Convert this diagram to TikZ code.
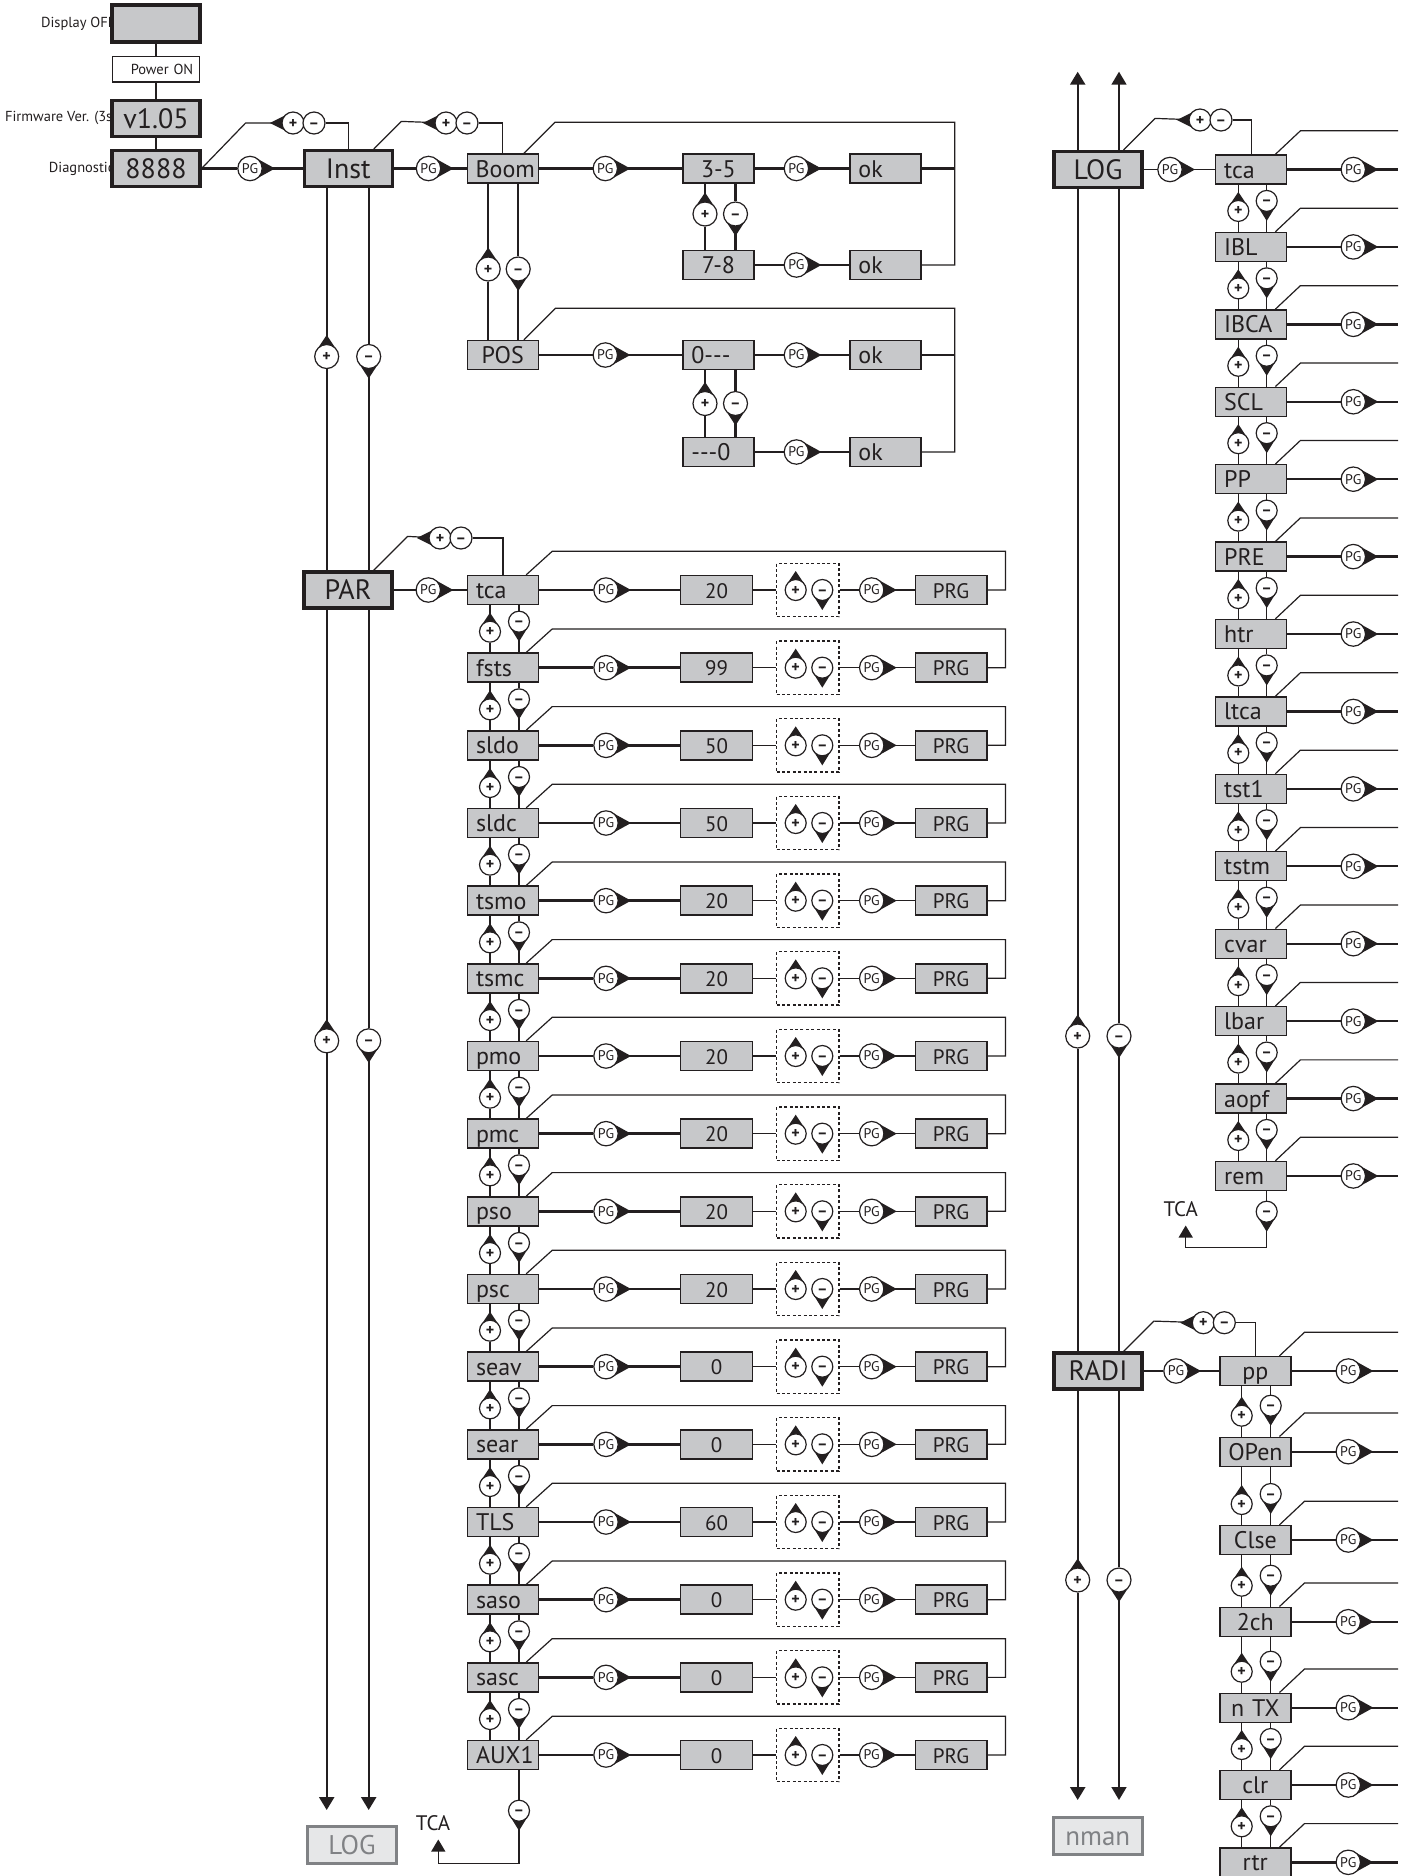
\documentclass[tikz,border=0pt]{standalone}
\usepackage{fontspec}
\setmainfont{PT Sans}
\usepackage{tikz}
\usetikzlibrary{arrows.meta}
\usetikzlibrary{positioning}

\definecolor{boxgray}{RGB}{199,200,202}
\definecolor{lblgray}{RGB}{230,231,232}
\definecolor{midgray}{RGB}{128,130,133}
\definecolor{ink}{RGB}{35,31,32}

% PG key, tip to the right
\newcommand{\pgkey}[3]{%
  \fill[ink] (#2,#3) ++(6,-10.5) -- ++(19,10.5) -- ++(-19,10.5) -- cycle;
  \node[pgcirc] (#1) at (#2,#3) {PG};}
% + key (tip up) and - key (tip down)
\newcommand{\pluskey}[3]{%
  \fill[ink] (#2,#3) ++(-8.5,-6.2) -- ++(8.5,-12.8) -- ++(8.5,12.8) -- cycle;
  \node[keycirc] (#1) at (#2,#3) {+};}
\newcommand{\minuskey}[3]{%
  \fill[ink] (#2,#3) ++(-8.5,6.2) -- ++(8.5,13.8) -- ++(8.5,-13.8) -- cycle;
  \node[keycirc] (#1) at (#2,#3) {--};}
\newcommand{\plusbig}[3]{%
  \fill[ink] (#2,#3) ++(-9.7,-7) -- ++(9.7,-14.5) -- ++(9.7,14.5) -- cycle;
  \node[keycirc,minimum size=12pt] (#1) at (#2,#3) {+};}
\newcommand{\minusbig}[3]{%
  \fill[ink] (#2,#3) ++(-9.7,7) -- ++(9.7,15) -- ++(9.7,-15) -- cycle;
  \node[keycirc,minimum size=12pt] (#1) at (#2,#3) {--};}
% back key: tip left, + and - side by side
\newcommand{\backkey}[3]{%
  \fill[ink] (#2,#3) ++(-6.2,-8.5) -- ++(-17,8.5) -- ++(17,8.5) -- cycle;
  \node[keycirc,minimum size=11pt] (#1p) at (#2,#3) {+};
  \node[keycirc,minimum size=11pt,xshift=10.5pt] (#1m) at (#2,#3) {--};}

% PAR item row: name, label, value, y
\newcommand{\parrow}[4]{%
  \node[itembox] (#1) at (503,#4) {#2};
  \pgkey{#1k}{606}{#4}
  \node[valbox] (#1v) at (716.5,#4) {#3};
  \node[dashbox] (#1s) at (807.8,#4) {};
  \pluskey{#1a}{795.7}{#4}
  \minuskey{#1b}{822.3}{#4}
  \pgkey{#1q}{871.7}{#4}
  \node[valbox] (#1r) at (951,#4) {PRG};
  \draw[thickline] (#1) -- (#1k) -- (#1v);
  \draw (#1v) -- (#1s) -- (#1q) -- (#1r);
  \draw ([xshift=-6.5pt]#1.north east) -- ++(26,-23.5) -| ([xshift=9pt]#1r.east) -- (#1r);}

% LOG / RADI item row running to the right edge: [style], name, label, x box, x PG, y
\newcommand{\subrow}[6][itembox]{%
  \node[#1] (#2) at (#4,#6) {#3};
  \pgkey{#2k}{#5}{#6}
  \draw[thickline] (#2) -- (#2k) -- (#2k -| redge);
  \path ([xshift=-6pt]#2.north east) ++(25,-23.5) coordinate (#2t);
  \draw ([xshift=-6pt]#2.north east) -- (#2t) -- (#2t -| redge);}

% +/- keys between two stacked items: upper, lower, x of +, x of -, y of lower
\newcommand{\stepkeys}[5]{%
  \pluskey{#1u}{#3}{#5-36}
  \minuskey{#1d}{#4}{#5-46}
  \draw (#1u |- #1.south) -- (#1u) -- (#1u |- #2.north);
  \draw (#1d |- #1.south) -- (#1d) -- (#1d |- #2.north);}

\begin{document}
\begin{tikzpicture}[x=0.5pt,y=-0.5pt,line width=0.6pt,color=ink,
  thickline/.style={line width=1.2pt},
  colthin/.style={line width=0.8pt},
  arr/.style={-{Triangle[length=6.5pt,width=7.5pt]}},
  smallarr/.style={-{Triangle[length=6pt,width=7pt]}},
  smalltxt/.style={inner sep=0pt,font=\fontsize{7.25}{8}\selectfont},
  bigbox/.style={draw,line width=1.6pt,fill=boxgray,minimum width=44pt,minimum height=18pt,inner sep=0pt,text height=9.8pt,text depth=0pt,font=\fontsize{14}{16}\selectfont},
  itembox/.style={draw,line width=0.7pt,fill=boxgray,text width=27pt,align=left,inner xsep=4.25pt,inner ysep=0pt,minimum height=14.5pt,text height=10pt,text depth=1.5pt,font=\fontsize{12}{14}\selectfont},
  itemc/.style={itembox,align=center},
  valbox/.style={draw,line width=0.7pt,fill=boxgray,minimum width=35.8pt,minimum height=14.5pt,inner sep=0pt,text height=8pt,text depth=0pt,font=\fontsize{10.5}{12}\selectfont},
  dashbox/.style={draw,dash pattern=on 1.5pt off 1.2pt,line width=0.6pt,minimum width=31.2pt,minimum height=26.6pt,inner sep=0pt},
  lblbox/.style={draw=midgray,line width=1.6pt,fill=lblgray,text=midgray,minimum width=44.6pt,minimum height=18.5pt,inner sep=0pt,text height=9.5pt,text depth=0pt,font=\fontsize{13.5}{15}\selectfont},
  pgcirc/.style={circle,draw,fill=white,inner sep=0pt,minimum size=12.2pt,font=\fontsize{7}{7}\selectfont},
  keycirc/.style={circle,draw,fill=white,inner sep=0pt,minimum size=10.5pt,text height=5pt,text depth=0pt,font=\fontsize{8}{8}\selectfont\bfseries},
  tcatxt/.style={inner sep=0pt,font=\fontsize{10.5}{12}\selectfont}]

\useasboundingbox (0,0) rectangle (1414,1876);
\fill[white] (0,0) rectangle (1414,1876);

\coordinate (redge) at (1398,0);
\coordinate (brA) at (954.8,0);
\coordinate (lefttip) at (0,1810);
\coordinate (toptip) at (0,71.7);
\coordinate (righttip) at (0,1800);

% start up
\node[smalltxt,anchor=east] (offtxt) at (116,23.5) {Display OFF};
\node[smalltxt,anchor=east] (fwtxt) at (117,118.2) {Firmware Ver. (3s)};
\node[smalltxt,anchor=east] (dgtxt) at (115,168.5) {Diagnostic};
\node[bigbox,minimum height=18.5pt] (doff) at (156,23.5) {};
\node[draw,fill=white,text width=37.25pt,align=right,inner xsep=3pt,inner ysep=0pt,minimum height=12.65pt,font=\fontsize{7.25}{8}\selectfont] (pwr) at (156,69.4) {Power ON};
\node[bigbox] (fw) at (156,118.2) {v1.05};
\node[bigbox] (diag) at (156,168.5) {8888};
\node[bigbox] (inst) at (348.3,168.5) {Inst};
\draw[line width=1pt] (doff) -- (pwr) -- (fw) -- (diag);

% Inst -> Boom / POS
\pgkey{k0}{250}{168.5}
\pgkey{k1}{428.5}{168.5}
\backkey{bk0}{293}{123}
\backkey{bk1}{446}{123}
\node[itemc] (boom) at (502.7,168.5) {Boom};
\pgkey{k2}{605.3}{168.5}
\node[itemc] (m35) at (718.4,168.5) {3-5};
\pgkey{k3}{796.4}{168.5}
\node[itembox] (ok1) at (885.4,168.5) {ok};
\node[itemc] (m78) at (718.4,265) {7-8};
\pgkey{k4}{796.4}{265}
\node[itembox] (ok2) at (885.4,265) {ok};
\plusbig{m35u}{705}{214}
\minusbig{m35d}{735.5}{214}
\plusbig{bmu}{488.2}{269}
\minusbig{bmd}{518.2}{269}
\node[itemc] (pos) at (502.7,355) {POS};
\pgkey{k5}{605.3}{355}
\node[itembox] (m0a) at (718.4,355) {0-{}-{}-};
\pgkey{k6}{796.4}{355}
\node[itembox] (ok3) at (885.4,355) {ok};
\node[itembox] (m0b) at (718.4,452) {-{}-{}-0};
\pgkey{k7}{796.4}{452}
\node[itembox] (ok4) at (885.4,452) {ok};
\plusbig{m0u}{705}{403.5}
\minusbig{m0d}{735.5}{403.5}

\draw[thickline] (diag) -- (k0) -- (inst) -- (k1) -- (boom) -- (k2) -- (m35) -- (k3) -- (ok1);
\draw[thickline] (m78) -- (k4) -- (ok2);
\draw[thickline] (pos) -- (k5) -- (m0a) -- (k6) -- (ok3);
\draw[thickline] (m0b) -- (k7) -- (ok4);
\draw (bk0m) -| (inst.north);
\draw (diag.east) -- ++(44,-45.5) -- (bk0p);
\draw (bk1m) -| (boom.north);
\draw ([xshift=-10pt]inst.north east) -- ++(27.5,-27.5) -- (bk1p);
\draw[thickline] (bmu |- boom.south) -- (bmu) -- (bmu |- pos.north);
\draw[thickline] (bmd |- boom.south) -- (bmd) -- (bmd |- pos.north);
\draw[thickline] (m35u |- m35.south) -- (m35u) -- (m35u |- m78.north);
\draw[thickline] (m35d |- m35.south) -- (m35d) -- (m35d |- m78.north);
\draw[thickline] (m0u |- m0a.south) -- (m0u) -- (m0u |- m0b.north);
\draw[thickline] (m0d |- m0a.south) -- (m0d) -- (m0d |- m0b.north);
\draw ([xshift=-7.5pt]boom.north east) -- ++(31,-31) -| (brA |- ok2) -- (ok2);
\draw[thickline] (ok1) -- (ok1 -| brA);
\draw ([xshift=-7.5pt]pos.north east) -- ++(31.5,-31.5) -| (brA |- ok4) -- (ok4);
\draw[thickline] (ok3) -- (ok3 -| brA);

% left column: Inst -> PAR -> LOG
\node[bigbox] (par) at (348,590) {PAR};
\node[lblbox] (loglbl) at (352,1845.3) {LOG};
\plusbig{cu1}{326.7}{356.5}
\minusbig{cd1}{368.7}{356.5}
\plusbig{cu2}{326.7}{1040.8}
\minusbig{cd2}{368.7}{1040.8}
\draw[thickline] (cu1 |- inst.south) -- (cu1) -- (cu1 |- par.north);
\draw[thickline] (cd1 |- inst.south) -- (cd1) -- (cd1 |- par.north);
\draw[thickline] (cu2 |- par.south) -- (cu2);
\draw[thickline,arr] (cu2) -- (cu2 |- lefttip);
\draw[thickline] (cd2 |- par.south) -- (cd2);
\draw[thickline,arr] (cd2) -- (cd2 |- lefttip);

% PAR list
\pgkey{k9}{428.3}{590}
\backkey{bk2}{440}{538}
\parrow{p0}{tca}{20}{590}
\parrow{p1}{fsts}{99}{667.67}
\parrow{p2}{sldo}{50}{745.33}
\parrow{p3}{sldc}{50}{823}
\parrow{p4}{tsmo}{20}{900.67}
\parrow{p5}{tsmc}{20}{978.33}
\parrow{p6}{pmo}{20}{1056}
\parrow{p7}{pmc}{20}{1133.67}
\parrow{p8}{pso}{20}{1211.33}
\parrow{p9}{psc}{20}{1289}
\parrow{p10}{seav}{0}{1366.67}
\parrow{p11}{sear}{0}{1444.33}
\parrow{p12}{TLS}{60}{1522}
\parrow{p13}{saso}{0}{1599.67}
\parrow{p14}{sasc}{0}{1677.33}
\parrow{p15}{AUX1}{0}{1755}
\stepkeys{p0}{p1}{490}{519}{667.67}
\stepkeys{p1}{p2}{490}{519}{745.33}
\stepkeys{p2}{p3}{490}{519}{823}
\stepkeys{p3}{p4}{490}{519}{900.67}
\stepkeys{p4}{p5}{490}{519}{978.33}
\stepkeys{p5}{p6}{490}{519}{1056}
\stepkeys{p6}{p7}{490}{519}{1133.67}
\stepkeys{p7}{p8}{490}{519}{1211.33}
\stepkeys{p8}{p9}{490}{519}{1289}
\stepkeys{p9}{p10}{490}{519}{1366.67}
\stepkeys{p10}{p11}{490}{519}{1444.33}
\stepkeys{p11}{p12}{490}{519}{1522}
\stepkeys{p12}{p13}{490}{519}{1599.67}
\stepkeys{p13}{p14}{490}{519}{1677.33}
\stepkeys{p14}{p15}{490}{519}{1755}
\draw (par) -- (k9) -- (p0);
\draw (bk2m) -| (p0.north);
\draw ([xshift=-10pt]par.north east) -- ++(34,-34) -- (bk2p);
\minuskey{p15x}{519}{1810.7}
\node[tcatxt] (tca2) at (433,1823.3) {TCA};
\coordinate (tcb2) at (438.3,1863.3);
\draw (p15x |- p15.south) -- (p15x);
\draw[smallarr,shorten >=4pt] (p15x) |- (tcb2) -- (tcb2 |- tca2.south);

% right column: LOG -> RADI -> nman
\node[bigbox] (log) at (1098,169.5) {LOG};
\node[bigbox] (radi) at (1098,1371) {RADI};
\node[lblbox] (nman) at (1097.8,1836.2) {nman};
\plusbig{cu3}{1077.7}{1036}
\minusbig{cd3}{1119}{1036}
\plusbig{cu4}{1077.7}{1580}
\minusbig{cd4}{1119}{1580}
\draw[thickline,arr] (cu3 |- log.north) -- (cu3 |- toptip);
\draw[colthin,arr] (cd3 |- log.north) -- (cd3 |- toptip);
\draw[thickline] (cu3 |- log.south) -- (cu3) -- (cu3 |- radi.north);
\draw[colthin] (cd3 |- log.south) -- (cd3) -- (cd3 |- radi.north);
\draw[thickline] (cu4 |- radi.south) -- (cu4);
\draw[thickline,arr] (cu4) -- (cu4 |- righttip);
\draw[colthin] (cd4 |- radi.south) -- (cd4);
\draw[colthin,arr] (cd4) -- (cd4 |- righttip);

% LOG list
\pgkey{k8}{1170}{169.5}
\backkey{bk3}{1200}{120}
\subrow{g0}{tca}{1251.2}{1353.3}{169.5}
\subrow{g1}{IBL}{1251.2}{1353.3}{246.92}
\subrow{g2}{IBCA}{1251.2}{1353.3}{324.34}
\subrow{g3}{SCL}{1251.2}{1353.3}{401.76}
\subrow{g4}{PP}{1251.2}{1353.3}{479.18}
\subrow{g5}{PRE}{1251.2}{1353.3}{556.6}
\subrow{g6}{htr}{1251.2}{1353.3}{634.02}
\subrow{g7}{ltca}{1251.2}{1353.3}{711.44}
\subrow{g8}{tst1}{1251.2}{1353.3}{788.86}
\subrow{g9}{tstm}{1251.2}{1353.3}{866.28}
\subrow{g10}{cvar}{1251.2}{1353.3}{943.7}
\subrow{g11}{lbar}{1251.2}{1353.3}{1021.12}
\subrow{g12}{aopf}{1251.2}{1353.3}{1098.54}
\subrow{g13}{rem}{1251.2}{1353.3}{1175.96}
\stepkeys{g0}{g1}{1238.3}{1266.7}{246.92}
\stepkeys{g1}{g2}{1238.3}{1266.7}{324.34}
\stepkeys{g2}{g3}{1238.3}{1266.7}{401.76}
\stepkeys{g3}{g4}{1238.3}{1266.7}{479.18}
\stepkeys{g4}{g5}{1238.3}{1266.7}{556.6}
\stepkeys{g5}{g6}{1238.3}{1266.7}{634.02}
\stepkeys{g6}{g7}{1238.3}{1266.7}{711.44}
\stepkeys{g7}{g8}{1238.3}{1266.7}{788.86}
\stepkeys{g8}{g9}{1238.3}{1266.7}{866.28}
\stepkeys{g9}{g10}{1238.3}{1266.7}{943.7}
\stepkeys{g10}{g11}{1238.3}{1266.7}{1021.12}
\stepkeys{g11}{g12}{1238.3}{1266.7}{1098.54}
\stepkeys{g12}{g13}{1238.3}{1266.7}{1175.96}
\draw (log) -- (k8) -- (g0);
\draw (bk3m) -| (g0.north);
\draw ([xshift=-10pt]log.north east) -- ++(31.5,-31.5) -- (bk3p);
\minuskey{g13x}{1266.7}{1211.7}
\node[tcatxt] (tca1) at (1180.7,1209.3) {TCA};
\coordinate (tcb1) at (1185.7,1247.7);
\draw (g13x |- g13.south) -- (g13x);
\draw[smallarr,shorten >=4pt] (g13x) |- (tcb1) -- (tcb1 |- tca1.south);

% RADI list
\pgkey{k10}{1176}{1371}
\backkey{bk4}{1203.3}{1322.7}
\subrow[itemc]{r0}{pp}{1255.3}{1348.3}{1371}
\subrow[itemc]{r1}{OPen}{1255.3}{1348.3}{1451.7}
\subrow[itemc]{r2}{Clse}{1255.3}{1348.3}{1540}
\subrow[itemc]{r3}{2ch}{1255.3}{1348.3}{1621.7}
\subrow[itemc]{r4}{n TX}{1255.3}{1348.3}{1707.7}
\subrow[itemc]{r5}{clr}{1255.3}{1348.3}{1785}
\subrow[itemc]{r6}{rtr}{1255.3}{1348.3}{1862.3}
\stepkeys{r0}{r1}{1241.7}{1270.7}{1451.7}
\stepkeys{r1}{r2}{1241.7}{1270.7}{1540}
\stepkeys{r2}{r3}{1241.7}{1270.7}{1621.7}
\stepkeys{r3}{r4}{1241.7}{1270.7}{1707.7}
\stepkeys{r4}{r5}{1241.7}{1270.7}{1785}
\stepkeys{r5}{r6}{1241.7}{1270.7}{1862.3}
\draw (radi) -- (k10) -- (r0);
\draw (bk4m) -| (r0.north);
\draw ([xshift=-10pt]radi.north east) -- ++(30.3,-30.3) -- (bk4p);
\end{tikzpicture}
\end{document}
